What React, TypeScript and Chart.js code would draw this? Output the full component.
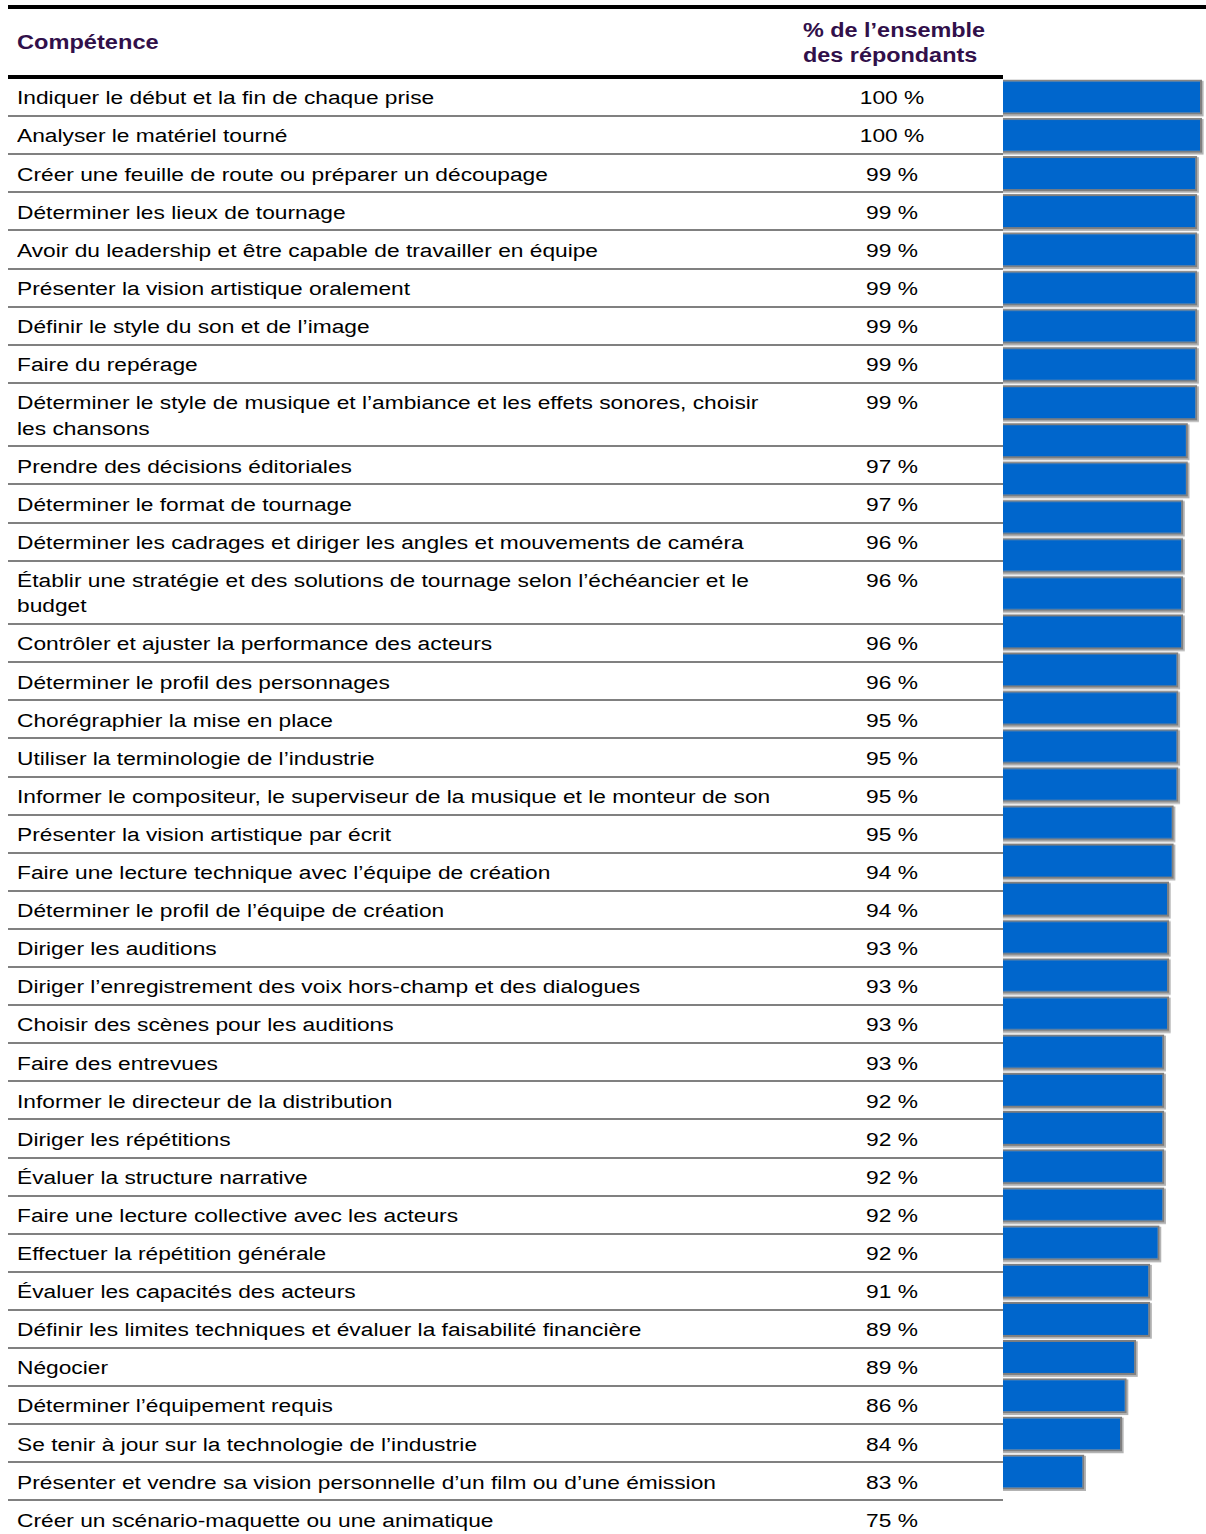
import React, { useEffect, useRef } from "react";
import { Chart, registerables } from "chart.js";

Chart.register(...registerables);

// ---------- data ----------
const headerSkill = "Compétence";
const headerShare = ["% de l’ensemble", "des répondants"];

const competences: (string | string[])[] = [
  "Indiquer le début et la fin de chaque prise",
  "Analyser le matériel tourné",
  "Créer une feuille de route ou préparer un découpage",
  "Déterminer les lieux de tournage",
  "Avoir du leadership et être capable de travailler en équipe",
  "Présenter la vision artistique oralement",
  "Définir le style du son et de l’image",
  "Faire du repérage",
  ["Déterminer le style de musique et l’ambiance et les effets sonores, choisir", "les chansons"],
  "Prendre des décisions éditoriales",
  "Déterminer le format de tournage",
  "Déterminer les cadrages et diriger les angles et mouvements de caméra",
  ["Établir une stratégie et des solutions de tournage selon l’échéancier et le", "budget"],
  "Contrôler et ajuster la performance des acteurs",
  "Déterminer le profil des personnages",
  "Chorégraphier la mise en place",
  "Utiliser la terminologie de l’industrie",
  "Informer le compositeur, le superviseur de la musique et le monteur de son",
  "Présenter la vision artistique par écrit",
  "Faire une lecture technique avec l’équipe de création",
  "Déterminer le profil de l’équipe de création",
  "Diriger les auditions",
  "Diriger l’enregistrement des voix hors-champ et des dialogues",
  "Choisir des scènes pour les auditions",
  "Faire des entrevues",
  "Informer le directeur de la distribution",
  "Diriger les répétitions",
  "Évaluer la structure narrative",
  "Faire une lecture collective avec les acteurs",
  "Effectuer la répétition générale",
  "Évaluer les capacités des acteurs",
  "Définir les limites techniques et évaluer la faisabilité financière",
  "Négocier",
  "Déterminer l’équipement requis",
  "Se tenir à jour sur la technologie de l’industrie",
  "Présenter et vendre sa vision personnelle d’un film ou d’une émission",
  "Créer un scénario-maquette ou une animatique",
];

const shares: number[] = [
  100, 100, 99, 99, 99, 99, 99, 99, 99, 97, 97, 96, 96, 96, 96, 95, 95, 95, 95,
  94, 94, 93, 93, 93, 93, 92, 92, 92, 92, 92, 91, 89, 89, 86, 84, 83, 75,
];

const axisMin = 57.7;
const axisMax = 100;

// ---------- layout ----------
const TABLE_TOP = 79;
const ROW_H = 38.1;
const LINE_H = 25.4;
const TABLE_RIGHT = 1003;
const FONT = "'Liberation Sans', Arial, Helvetica, sans-serif";
const BODY_SIZE = 19.2;
const STRETCH = 1.185;
const HEAD_STRETCH = 1.18;
const PURPLE = "#31104A";

export default function App() {
  const canvasRef = useRef<HTMLCanvasElement>(null);

  useEffect(() => {
    const shadowPlugin = {
      id: "barShadow",
      beforeDatasetsDraw(chart: any) {
        const ctx = chart.ctx;
        const meta = chart.getDatasetMeta(0);
        ctx.save();
        ctx.fillStyle = "#b3b3b3";
        meta.data.forEach((el: any) => {
          const p = el.getProps(["x", "y", "base", "height"], true);
          const top = p.y - p.height / 2;
          ctx.fillRect(p.base + 1, top + 1.2, p.x - p.base + 0.6, p.height + 0.6);
        });
        ctx.restore();
      },
    };
    const chart = new Chart(canvasRef.current!, {
      type: "bar",
      data: {
        labels: competences.map((c) => (Array.isArray(c) ? c.join(" ") : c)),
        datasets: [
          {
            data: shares,
            backgroundColor: "#0066CC",
            borderColor: "#7F7F7F",
            borderWidth: 2,
            borderSkipped: "start",
            barPercentage: 0.917,
            categoryPercentage: 1,
            clip: false as any,
          },
        ],
      },
      options: {
        indexAxis: "y",
        animation: false,
        responsive: true,
        maintainAspectRatio: false,
        layout: { padding: { right: 4, left: 0, top: 0, bottom: 0 } },
        plugins: { legend: { display: false }, tooltip: { enabled: false } },
        scales: {
          x: { display: false, min: axisMin, max: axisMax },
          y: { display: false },
        },
      },
      plugins: [shadowPlugin],
    });
    return () => chart.destroy();
  }, []);

  const rows: { top: number; h: number; lines: string[]; value: number }[] = [];
  let t = TABLE_TOP;
  competences.forEach((c, i) => {
    const lines = Array.isArray(c) ? c : [c];
    const h = ROW_H + (lines.length - 1) * LINE_H;
    rows.push({ top: t, h, lines, value: shares[i] });
    t += h;
  });

  const textStyle: React.CSSProperties = {
    position: "absolute",
    fontSize: BODY_SIZE,
    lineHeight: `${LINE_H}px`,
    whiteSpace: "pre",
    color: "#000",
  };

  return (
    <div
      style={{
        position: "absolute",
        left: 0,
        top: 0,
        width: 1206,
        height: 1534,
        overflow: "hidden",
        background: "#fff",
        fontFamily: FONT,
      }}
    >
      {/* top rules */}
      <div style={{ position: "absolute", left: 8, top: 5, width: 1198, height: 4, background: "#000" }} />
      <div style={{ position: "absolute", left: 8, top: 75, width: TABLE_RIGHT - 8, height: 4, background: "#000" }} />

      {/* headers */}
      <div
        style={{
          position: "absolute",
          left: 17,
          top: 43 - LINE_H / 2,
          lineHeight: `${LINE_H}px`,
          fontSize: 20,
          fontWeight: "bold",
          color: PURPLE,
          whiteSpace: "pre",
          transform: `scaleX(${HEAD_STRETCH})`,
          transformOrigin: "left center",
        }}
      >
        {headerSkill}
      </div>
      {headerShare.map((l, k) => (
        <div
          key={k}
          style={{
            position: "absolute",
            left: 803,
            top: 31 + k * 25 - LINE_H / 2,
            lineHeight: `${LINE_H}px`,
            fontSize: 20,
            fontWeight: "bold",
            color: PURPLE,
            whiteSpace: "pre",
            transform: `scaleX(${HEAD_STRETCH - 0.01})`,
            transformOrigin: "left center",
          }}
        >
          {l}
        </div>
      ))}

      {/* rows */}
      {rows.map((r, i) => (
        <React.Fragment key={i}>
          {r.lines.map((l, k) => (
            <div
              key={k}
              style={{
                ...textStyle,
                left: 17,
                top: r.top + 19 - LINE_H / 2 + k * LINE_H,
                transform: `scaleX(${STRETCH})`,
                transformOrigin: "left center",
              }}
            >
              {l}
            </div>
          ))}
          <div
            style={{
              ...textStyle,
              left: 832,
              width: 120,
              textAlign: "center",
              top: r.top + 19 - LINE_H / 2,
              transform: `scaleX(${STRETCH})`,
              transformOrigin: "center center",
            }}
          >
            {`${r.value}\u00a0%`}
          </div>
          <div
            style={{
              position: "absolute",
              left: 8,
              top: Math.round(r.top + r.h - 2),
              width: TABLE_RIGHT - 8,
              height: 2,
              background: "#808080",
            }}
          />
        </React.Fragment>
      ))}

      {/* bars */}
      <div
        style={{
          position: "absolute",
          left: 1003,
          top: 78.42,
          width: 203,
          height: 1412.2,
        }}
      >
        <canvas ref={canvasRef} />
      </div>
    </div>
  );
}
